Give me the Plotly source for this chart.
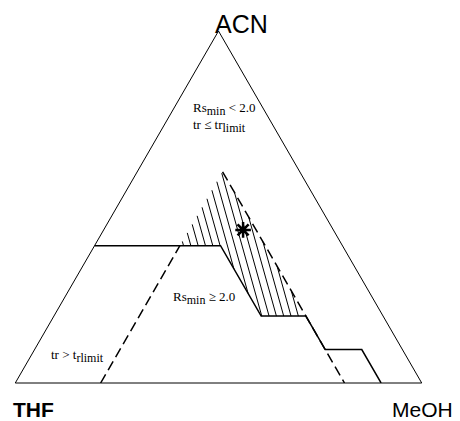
import math
import plotly.graph_objects as go

# Mobile-phase composition diagram: ACN (top), THF (bottom left), MeOH (bottom right)
# Fractions are (ACN, THF, MeOH), each row summing to 1.

# Retention-time limit boundary (solid line)
limit_acn = [0.39, 0.39, 0.19, 0.19, 0.095, 0.095, 0.0]
limit_thf = [0.61, 0.30, 0.30, 0.19, 0.19, 0.10, 0.10]

# Resolution boundaries (dashed lines)
rs_left_acn = [0.0, 0.39]
rs_left_meoh = [0.21, 0.21]
rs_right_acn = [0.60, 0.0]
rs_right_thf = [0.19, 0.19]

# Region where Rs_min >= 2.0 and tr <= tr_limit (hatched)
zone_acn = [0.60, 0.19, 0.19, 0.39, 0.39]
zone_thf = [0.19, 0.19, 0.30, 0.30, 0.40]

# Optimum composition
opt_acn = [0.435]
opt_thf = [0.222]


def third(a, b):
    return [round(1 - x - y, 4) for x, y in zip(a, b)]


limit_meoh = third(limit_acn, limit_thf)
rs_left_thf = third(rs_left_acn, rs_left_meoh)
rs_right_meoh = third(rs_right_acn, rs_right_thf)
zone_meoh = third(zone_acn, zone_thf)
opt_meoh = third(opt_acn, opt_thf)

S3 = math.sqrt(3) / 2


def to_xy(a, c):
    return c + a / 2, a * S3


def to_abc(x, y):
    a = y / S3
    c = x - a / 2
    return a, 1 - a - c, c


def hatch(acn, meoh, lean=0.28, step=0.018):
    """Clip a family of steep parallel lines to the polygon."""
    pts = [to_xy(a, c) for a, c in zip(acn, meoh)]
    ks = [x + lean * y for x, y in pts]
    ha, hb, hc = [], [], []
    k = min(ks) + step / 2
    n = len(pts)
    while k < max(ks):
        hits = []
        for i in range(n):
            (x1, y1), (x2, y2) = pts[i], pts[(i + 1) % n]
            f1 = x1 + lean * y1 - k
            f2 = x2 + lean * y2 - k
            if (f1 < 0) != (f2 < 0):
                t = f1 / (f1 - f2)
                hits.append((x1 + t * (x2 - x1), y1 + t * (y2 - y1)))
        hits.sort(key=lambda p: p[1])
        for j in range(0, len(hits) - 1, 2):
            for p in (hits[j], hits[j + 1]):
                a, b, c = to_abc(*p)
                ha.append(a); hb.append(b); hc.append(c)
            ha.append(None); hb.append(None); hc.append(None)
        k += step
    return ha, hb, hc


h_a, h_b, h_c = hatch(zone_acn, zone_meoh)

fig = go.Figure()

fig.add_trace(go.Scatterternary(
    a=h_a, b=h_b, c=h_c, mode="lines",
    line=dict(color="black", width=1), hoverinfo="skip"))

fig.add_trace(go.Scatterternary(
    a=rs_left_acn, b=rs_left_thf, c=rs_left_meoh, mode="lines",
    line=dict(color="black", width=1.5, dash="10px,5px")))
fig.add_trace(go.Scatterternary(
    a=rs_right_acn, b=rs_right_thf, c=rs_right_meoh, mode="lines",
    line=dict(color="black", width=1.5, dash="10px,5px")))

fig.add_trace(go.Scatterternary(
    a=limit_acn, b=limit_thf, c=limit_meoh, mode="lines",
    line=dict(color="black", width=1.5)))

fig.add_trace(go.Scatterternary(
    a=opt_acn, b=opt_thf, c=opt_meoh, mode="markers",
    marker=dict(symbol="asterisk-open", size=13, color="black",
                line=dict(color="black", width=2.5))))

axis = dict(showticklabels=False, ticks="", showgrid=False,
            linecolor="black", linewidth=1, title=dict(text=""))

W, H = 460, 421
fig.update_layout(
    width=W, height=H,
    margin=dict(l=0, r=0, t=0, b=0),
    paper_bgcolor="white",
    showlegend=False,
    ternary=dict(
        sum=1,
        bgcolor="white",
        domain=dict(x=[15 / W, 422 / W], y=[38 / H, 390 / H]),
        aaxis=axis, baxis=axis, caxis=axis,
    ),
)


def label(text, x, y, size, family="Liberation Serif", xanchor="center",
          align="center"):
    fig.add_annotation(
        text=text, x=x / W, y=1 - y / H, xref="paper", yref="paper",
        showarrow=False, xanchor=xanchor, yanchor="middle", align=align,
        font=dict(family=family, size=size, color="black"))


def sub(s):
    return '<sub><span style="font-size:12px">' + s + "</span></sub>"


label("ACN", 241, 24, 25, family="Liberation Sans")
label("<b>THF</b>", 33, 409, 21, family="Liberation Sans")
label("MeOH", 422, 409, 21, family="Liberation Sans")

label("Rs" + sub("min") + " < 2.0<br>tr ≤ tr" + sub("limit"), 191, 117, 13,
      xanchor="left", align="left")
label("Rs" + sub("min") + " ≥ 2.0", 204, 298, 13)
label("tr > t" + sub("rlimit"), 77, 356, 13)

fig.write_html("out.html")
